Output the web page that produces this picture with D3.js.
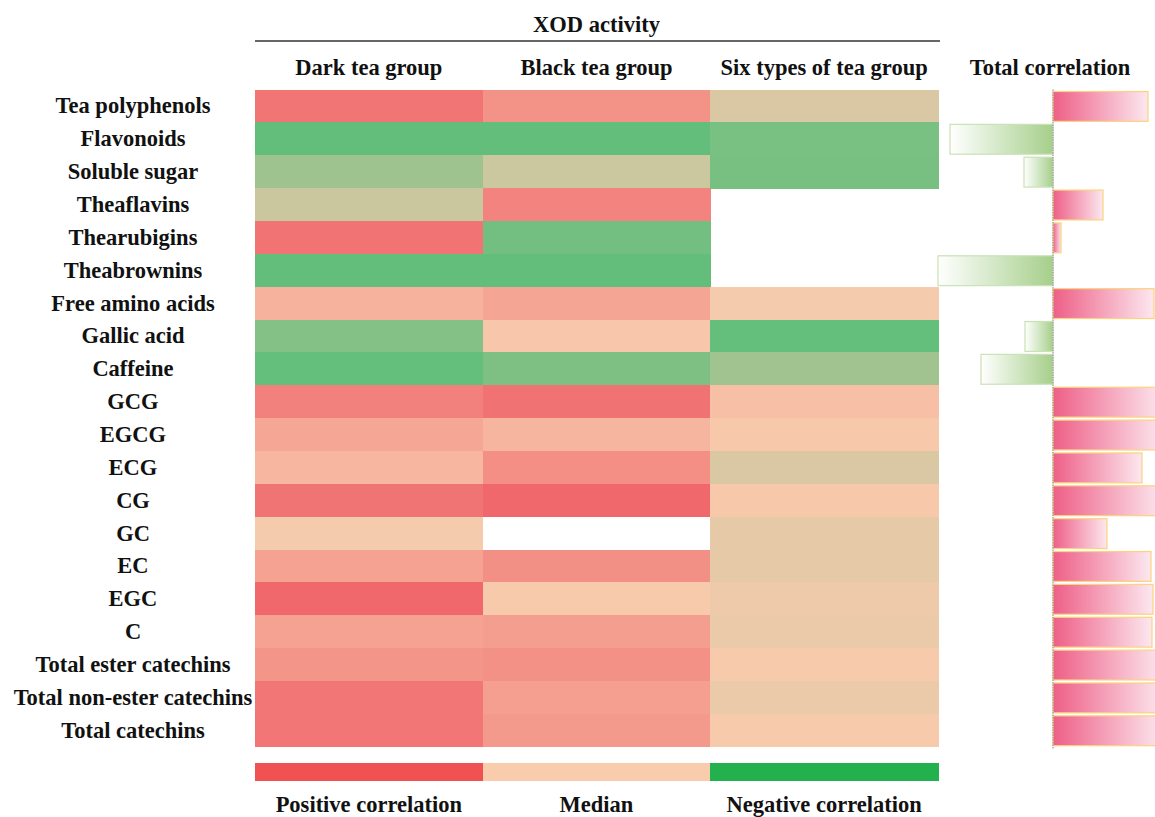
<!DOCTYPE html>
<html>
<head>
<meta charset="utf-8">
<script src="https://cdn.jsdelivr.net/npm/d3@7"></script>
<style>
  html, body { margin: 0; padding: 0; background: #fff; }
  svg { display: block; }
  text { font-family: "Liberation Serif", "Times New Roman", serif; font-weight: bold; fill: #111; }
</style>
</head>
<body>
<svg id="chart" width="1155" height="817"></svg>
<script>
// ---------------- data ----------------
const rowLabels = ["Tea polyphenols","Flavonoids","Soluble sugar","Theaflavins","Thearubigins",
  "Theabrownins","Free amino acids","Gallic acid","Caffeine","GCG","EGCG","ECG","CG","GC","EC",
  "EGC","C","Total ester catechins","Total non-ester catechins","Total catechins"];
const groups = ["Dark tea group","Black tea group","Six types of tea group"];
// correlation with XOD activity (null = not measured)
const darkTea  = [0.87,-1.00,-0.60,-0.31,0.89,-1.00,0.25,-0.78,-0.99,0.76,0.37,0.21,0.88,-0.03,0.41,1.00,0.41,0.55,0.86,0.86];
const blackTea = [0.57,-1.00,-0.30,0.73,-0.89,-1.00,0.38,0.05,-0.82,0.90,0.22,0.61,1.00,null,0.60,0.01,0.45,0.59,0.44,0.49];
const sixTea   = [-0.21,-0.85,-0.86,null,null,null,-0.03,-0.99,-0.59,0.12,0.03,-0.21,0.03,-0.12,-0.12,-0.06,-0.09,0.01,-0.09,0.01];
const totalCorr = [0.95,-1.03,-0.29,0.50,0.08,-1.15,1.01,-0.28,-0.72,1.10,1.10,0.89,1.10,0.54,0.98,1.00,0.99,1.10,1.10,1.10];
const legendLabels = ["Positive correlation","Median","Negative correlation"];
const legendValues = [1, 0, -1];

// ---------------- layout ----------------
const svg = d3.select("#chart");
const hmLeft = 255, hmRight = 938, hmTop = 89.5, hmBottom = 746.7;
const fs = "22.5px";

const x = d3.scaleBand().domain(groups).range([hmLeft, hmRight]);
const y = d3.scaleBand().domain(rowLabels).range([hmTop, hmBottom]);

const color = d3.scaleLinear().domain([-1, 0, 1])
  .range(["#63be7b", "#f8cbad", "#f0686c"]).interpolate(d3.interpolateRgb);
const legendColor = d3.scaleOrdinal().domain([1, 0, -1]).range(["#f05252", "#f8ccad", "#22b14c"]);

const series = [darkTea, blackTea, sixTea];
const cells = [];
series.forEach((s, gi) => s.forEach((v, ri) => { if (v !== null) cells.push({g: groups[gi], r: rowLabels[ri], v}); }));

// heatmap
svg.append("g").attr("shape-rendering", "crispEdges").selectAll("rect").data(cells).join("rect")
  .attr("x", d => x(d.g)).attr("y", d => y(d.r))
  .attr("width", x.bandwidth() + 0.6).attr("height", y.bandwidth() + 0.6)
  .attr("fill", d => color(d.v));

// row labels
svg.append("g").selectAll("text").data(rowLabels).join("text")
  .attr("x", 133).attr("y", d => y(d) + y.bandwidth() / 2 + 7.5)
  .attr("text-anchor", "middle").style("font-size", fs).text(d => d);

// column headers
svg.append("g").selectAll("text").data(groups).join("text")
  .attr("x", d => x(d) + x.bandwidth() / 2).attr("y", 75)
  .attr("text-anchor", "middle").style("font-size", fs).text(d => d);

svg.append("text").attr("x", (hmLeft + hmRight) / 2).attr("y", 32)
  .attr("text-anchor", "middle").style("font-size", fs).text("XOD activity");
svg.append("line").attr("x1", hmLeft).attr("x2", hmRight + 2).attr("y1", 41).attr("y2", 41)
  .attr("stroke", "#333").attr("stroke-width", 1.5);

svg.append("text").attr("x", 1050).attr("y", 75)
  .attr("text-anchor", "middle").style("font-size", fs).text("Total correlation");

// ---------------- total correlation bars ----------------
const xb = d3.scaleLinear().domain([-1.2, 1.2]).range([933, 1173]);
const defs = svg.append("defs");
const gp = defs.append("linearGradient").attr("id", "gradPos").attr("x1", "0%").attr("x2", "100%");
gp.append("stop").attr("offset", "0%").attr("stop-color", "#ee5f87");
gp.append("stop").attr("offset", "100%").attr("stop-color", "#fce8ef");
const gn = defs.append("linearGradient").attr("id", "gradNeg").attr("x1", "0%").attr("x2", "100%");
gn.append("stop").attr("offset", "0%").attr("stop-color", "#ffffff");
gn.append("stop").attr("offset", "100%").attr("stop-color", "#a6cf8b");

const barData = rowLabels.map((r, i) => ({r, v: totalCorr[i]}));
svg.append("g").selectAll("rect").data(barData).join("rect")
  .attr("x", d => Math.min(xb(0), xb(d.v)))
  .attr("y", d => y(d.r) + 2)
  .attr("width", d => Math.abs(xb(d.v) - xb(0)))
  .attr("height", y.bandwidth() - 3)
  .attr("fill", d => d.v >= 0 ? "url(#gradPos)" : "url(#gradNeg)")
  .attr("stroke", d => d.v >= 0 ? "#fcd27e" : "#c8e2b5")
  .attr("stroke-width", 1.2);

svg.append("line").attr("x1", xb(0)).attr("x2", xb(0)).attr("y1", hmTop).attr("y2", hmBottom + 2)
  .attr("stroke", "#999").attr("stroke-width", 1.2).attr("stroke-dasharray", "1.5,1");

// ---------------- legend ----------------
const xl = d3.scaleBand().domain(legendValues).range([hmLeft, hmRight]);
svg.append("g").attr("shape-rendering", "crispEdges").selectAll("rect").data(legendValues).join("rect")
  .attr("x", d => xl(d)).attr("y", 763).attr("width", xl.bandwidth() + 0.6).attr("height", 18)
  .attr("fill", d => legendColor(d));
svg.append("g").selectAll("text").data(legendValues).join("text")
  .attr("x", d => xl(d) + xl.bandwidth() / 2).attr("y", 812)
  .attr("text-anchor", "middle").style("font-size", fs)
  .text((d, i) => legendLabels[i]);
</script>
</body>
</html>
